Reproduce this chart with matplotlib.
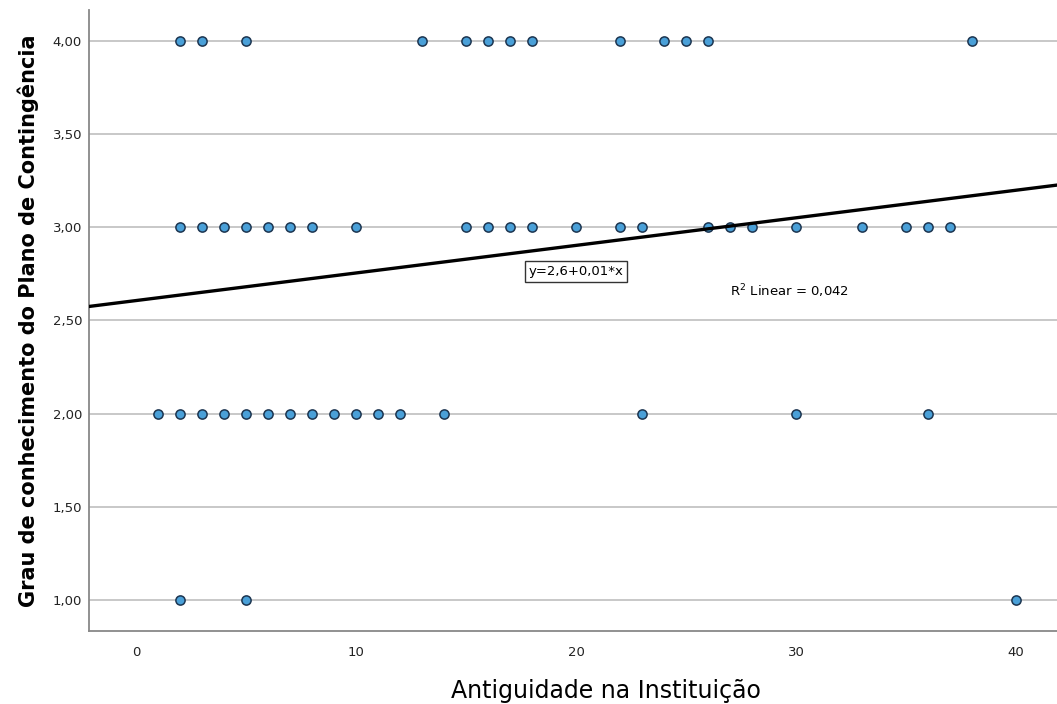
import numpy as np
import matplotlib.pyplot as plt

plt.rcParams['font.family'] = ['DejaVu Sans']

# data (x = years in institution, y = knowledge level)
x_lvl4 = [2, 3, 5, 13, 15, 16, 17, 18, 22, 24, 25, 26, 38]
x_lvl3 = [2, 3, 4, 5, 6, 7, 8, 10, 15, 16, 17, 18, 20, 22, 23, 26, 27, 28, 30, 33, 35, 36, 37]
x_lvl2 = [1, 2, 3, 4, 5, 6, 7, 8, 9, 10, 11, 12, 14, 23, 30, 36]
x_lvl1 = [2, 5, 40]

fit_intercept = 2.607
fit_slope = 0.0148
fit_label = 'y=2,6+0,01*x'
r2_label = 'R$^2$ Linear = 0,042'

y_ticks = [1.0, 1.5, 2.0, 2.5, 3.0, 3.5, 4.0]
x_ticks = [0, 10, 20, 30, 40]

xs = np.array(x_lvl4 + x_lvl3 + x_lvl2 + x_lvl1)
ys = np.array([4] * len(x_lvl4) + [3] * len(x_lvl3) + [2] * len(x_lvl2) + [1] * len(x_lvl1))

fig = plt.figure(figsize=(10.57, 7.04), dpi=100)
ax = fig.add_axes([0.0842, 0.1037, 0.9158, 0.8821])

xlim = (-2.14, 41.86)
ax.set_xlim(xlim)
ax.set_ylim(0.834, 4.166)

for yt in y_ticks:
    ax.axhline(yt, color='#c4c4c4', lw=1.3, zorder=0)

ax.scatter(xs, ys, s=44, color='#4aa0d8', edgecolor='#1c3550', linewidth=1.1, zorder=3)

lx = np.array(xlim)
ax.plot(lx, fit_intercept + fit_slope * lx, color='black', lw=2.4, zorder=4)

ax.text(20.0, 2.765, fit_label, ha='center', va='center', fontsize=9.5, zorder=5,
        bbox=dict(boxstyle='square,pad=0.3', fc='white', ec='#333333', lw=1))
ax.text(27.0, 2.658, r2_label, ha='left', va='center', fontsize=9.5)

ax.set_yticks(y_ticks)
ax.set_yticklabels([f'{v:.2f}'.replace('.', ',') for v in y_ticks])
ax.set_xticks(x_ticks)
ax.tick_params(length=0, labelsize=9.5, colors='#222222', pad=5)
ax.tick_params(axis='x', pad=11)

for s in ['top', 'right']:
    ax.spines[s].set_visible(False)
for s in ['left', 'bottom']:
    ax.spines[s].set_color('#888888')
    ax.spines[s].set_linewidth(1.3)

ax.set_ylabel('Grau de conhecimento do Plano de Contingência', fontsize=15, fontweight='bold', labelpad=10)
ax.set_xlabel('Antiguidade na Instituição', fontsize=17)
ax.xaxis.set_label_coords(0.534, -0.077)

fig.savefig('out.png', dpi=100)
